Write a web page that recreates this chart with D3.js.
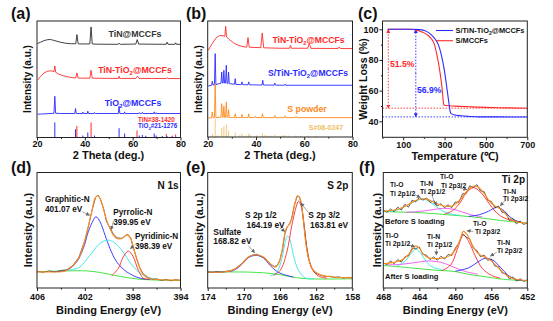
<!DOCTYPE html>
<html>
<head>
<meta charset="utf-8">
<script src="https://cdn.jsdelivr.net/npm/d3@7"></script>
<style>
  body { margin: 0; background: #fff; }
  svg text { font-family: "Liberation Sans", Arial, sans-serif; font-weight: bold; }
</style>
</head>
<body>
<div id="fig"></div>
<script>
// ---------- (a) XRD : [2theta, intensity a.u.] ----------
const tinMCCF = [[20.2,80.6],[21.5,81.8],[23,83.2],[24.5,84],[25.5,84.1],[26.5,83.7],[28,82.8],[30,81.7],[32,80.9],[34,80.5],[36.2,80.5],[36.7,88.3],[37.2,80.5],[38,80.3],[42.1,80.3],[42.6,94.9],[43.1,80.3],[45,80.1],[53.8,80],[54.3,80.8],[54.8,80],[61.3,80.2],[61.9,84],[62.5,80.2],[74,80],[74.4,81.8],[74.8,80],[77.7,80],[78,81.3],[78.3,80],[80,80]];
const tinTiO2a = [[20.2,49.1],[21.5,52.5],[23,55.5],[24.5,57],[25.5,57.2],[26.5,57],[27.1,56.5],[27.45,61.4],[27.8,56],[29,54.5],[31,53],[33,52],[35,51.3],[36.2,51.2],[36.7,55.4],[37.2,51],[42.1,50.9],[42.6,57.7],[43.1,50.9],[54,50.7],[54.3,52.5],[54.6,50.7],[61.3,50.7],[62,52.6],[62.7,50.7],[74,50.6],[74.4,51.3],[74.8,50.6],[80,50.6]];
const tio2MCCF = [[20.2,20],[25,20.5],[27.1,20.8],[27.45,35.4],[27.8,20.8],[30,20.6],[35.8,20.6],[36.1,24.9],[36.4,20.6],[39,20.6],[39.2,21.8],[39.4,20.6],[41,20.6],[41.25,22.6],[41.5,20.6],[43.8,20.6],[44.05,21.5],[44.3,20.6],[54,20.6],[54.32,26.8],[54.65,20.6],[56.4,20.6],[56.64,22],[56.9,20.6],[62.5,20.6],[62.75,21.4],[63,20.6],[63.8,20.6],[64.05,21.6],[64.3,20.6],[68.8,20.6],[69,22],[69.2,20.6],[69.6,20.6],[69.8,21.3],[70,20.6],[80,20.6]];
const tio2Ref = [[27.45,12.9],[36.09,7.1],[39.19,1.7],[41.24,4.3],[44.05,1.7],[54.32,8],[56.64,3.4],[62.74,1.7],[64.04,2.2],[65.48,1.5],[69.01,3.4],[69.79,1.7],[72.41,1.3],[74.4,1.2],[76.51,1.5]];
const tinRef = [[36.66,10],[42.6,12.9],[61.81,6],[74.07,3],[77.96,2.6]];

// ---------- (b) XRD ----------
const tinTiO2b = [[20.2,74.7],[21,77.5],[22,81],[23.5,85.5],[25,87.5],[26.3,87.3],[27.1,86.8],[27.45,95.4],[27.8,86.2],[29,84],[31,80.7],[33,78.8],[35,77.7],[36.2,77.5],[36.7,85.7],[37.2,77.4],[42,77],[42.6,89.7],[43.2,76.9],[50,76.5],[53.9,76.5],[54.3,79],[54.7,76.5],[61.4,76.5],[62.1,80.5],[62.8,76.4],[74,76.3],[74.5,77.6],[75,76.3],[80,76.2]];
const sTinTiO2 = [[20.2,44],[21.6,44.5],[21.9,48],[22.2,44.8],[22.8,45],[23.1,71.9],[23.4,45.2],[24.5,45.8],[25.5,46.3],[25.8,56],[26.1,46.5],[26.4,46.5],[26.7,57.5],[27,46.5],[27.4,46.5],[27.7,61.8],[28,46.3],[28.35,46.2],[28.65,56],[28.95,46],[31.1,45.5],[31.4,50.3],[31.7,45.3],[33.9,45.2],[34.2,47.5],[34.5,45.1],[36.7,45],[37,47.5],[37.3,45],[42.5,44.8],[42.8,48.9],[43.1,44.8],[47.5,44.7],[47.8,46.5],[48.1,44.7],[51.8,44.6],[52.1,45.6],[52.4,44.6],[80,44.6]];
const sPowder = [[20.2,16.3],[21.6,16.5],[21.9,21.6],[22.2,16.6],[22.8,16.7],[23.1,46],[23.4,16.8],[25.5,17],[25.8,28.8],[26.1,17],[26.4,17],[26.7,26.5],[27,17],[27.4,17],[27.7,30.2],[28,17],[28.35,17],[28.65,23.6],[28.95,16.9],[31.1,16.8],[31.4,20],[31.7,16.8],[33.9,16.8],[34.2,19.5],[34.5,16.8],[36.7,16.8],[37,20],[37.3,16.8],[39.5,16.8],[39.8,18],[40.1,16.8],[42.4,16.8],[42.7,20],[43,16.8],[47.5,16.7],[47.8,18.5],[48.1,16.7],[51.8,16.7],[52.1,18.3],[52.4,16.7],[56.3,16.7],[56.6,17.8],[56.9,16.7],[80,16.7]];
const sRef = [[22,2.5],[23.1,15.9],[24.1,1.5],[25.8,7.8],[26.7,9.2],[27.7,11],[28.6,5.5],[31.4,4],[33.3,1.5],[34.2,3],[36,1.5],[37,3],[37.6,2],[40.3,1.5],[42.7,3],[43.5,1.5],[44.6,1.2],[46,1.2],[47.8,2],[50.4,1],[51.3,1.3],[52.1,1.5],[53.4,1.2],[56.6,1.2],[58.5,1],[61.8,1],[64.6,1]];

// ---------- (c) TGA : [temperature, weight %] ----------
const tgaS_TiN = [[25,100],[150,100],[180,99.8],[210,98.8],[235,96.5],[255,93.5],[270,90],[285,83],[298,74],[308,65],[316,57],[322,51],[327,46.5],[332,45],[345,44.3],[380,43.6],[420,43.2],[470,42.9],[550,42.9],[700,42.8]];
const tgaS_MCCF = [[25,100],[130,100],[160,99.6],[190,98.3],[215,96.5],[235,94],[250,90.5],[262,84],[272,77],[281,69],[288,61.5],[293,54],[296,50.8],[305,50.3],[350,49.9],[420,49.5],[500,49.1],[600,48.8],[700,48.5]];
const lossMarks = [{t:28, top:100, end:48.6, label:"51.5%", color:"#ff2b2b"}, {t:161, top:100, end:42.9, label:"56.9%", color:"#2b2bff"}];

// ---------- (d) N 1s : [binding energy, intensity a.u.] ----------
const nBg = [[406,14],[403.5,14.8],[401.85,14.8],[400.7,13.4],[399.6,11.1],[398.5,9.1],[397.4,7.6],[395.7,6.8],[394,6.5]];
const nExp = [[406,14.5],[405.5,13.6],[405,14.8],[404.5,14],[404,15.2],[403.5,15.8],[403,19.5],[402.5,26.5],[402,41],[401.7,53.5],[401.4,67],[401.1,78.5],[400.9,80.5],[400.7,77],[400.45,69.5],[400.2,58],[399.9,52],[399.6,46.5],[399.3,43.5],[398.9,43],[398.6,45.5],[398.4,46.5],[398.15,43],[397.95,35],[397.65,25],[397.4,17.5],[397.1,12],[396.7,8.9],[396.3,7.3],[396,8],[395.6,6.5],[395.2,7.5],[394.8,6.2],[394.4,7.3],[394,6.5]];
const nFit = [[406,14],[403.8,14.3],[403.5,15.4],[402.96,19.8],[402.4,28.4],[401.99,41.5],[401.71,53],[401.43,66],[401.15,77.6],[400.93,79.9],[400.73,77.6],[400.45,68.9],[400.18,58.8],[399.9,51.6],[399.62,45.8],[399.34,42.9],[398.92,42.9],[398.64,44.9],[398.42,45.8],[398.17,42.9],[397.95,35.7],[397.67,25.6],[397.39,16.9],[397.11,11.7],[396.69,8.5],[396,7.4],[394,6.8]];
const nGraphitic = [[404.9,14.3],[403.52,15.4],[402.68,22.7],[402.13,34.3],[401.71,48.7],[401.29,58.8],[401.07,61.7],[400.73,57.4],[400.31,45.8],[399.9,34.3],[399.34,22.7],[398.5,14],[397.39,8.5],[396.55,7.4]];
const nPyrrolic = [[403.5,15],[402.96,16.2],[402.4,18.3],[401.57,28.4],[400.73,38.6],[400.04,41.5],[399.34,37.7],[398.78,30.8],[398.22,22.1],[397.67,15.4],[396.83,9.7],[396,7.6]];
const nPyridinic = [[399.76,10.5],[399.2,16.9],[398.78,27],[398.36,31.9],[397.95,27],[397.53,15.4],[397.11,8.5],[396.69,7.4]];
const nArrows = [[402.2,66,401.6,63],[399.6,58,399.8,50.5],[397.85,37,398.2,34]];

// ---------- (e) S 2p ----------
const sBg = [[174,13.8],[169.68,13.8],[167.46,12.9],[165.98,11.5],[164.51,9.4],[163.03,8],[158,8]];
const sExp = [[174,14.2],[173.5,13.4],[173,14.3],[172.5,13.6],[172,14.5],[171.5,14.8],[171,16.5],[170.5,19.5],[170,22.5],[169.5,27],[169,28.6],[168.6,29.3],[168.2,28],[167.8,26.3],[167.4,23],[167,20.5],[166.6,18.6],[166.3,19.5],[166,24.5],[165.7,34.5],[165.45,47],[165.2,53],[164.95,55],[164.7,60.5],[164.45,70.5],[164.1,79.5],[163.85,78.8],[163.6,71],[163.35,56],[163.1,38],[162.85,25.5],[162.5,17.5],[162.1,13],[161.6,11.2],[161,9.8],[160.5,10.2],[160,9.2],[159.5,9.6],[159,8.6],[158.5,9.2],[158,8.7]];
const sFit = [[174,13.8],[172.27,13.8],[171.16,15.8],[170.23,21],[169.5,26.8],[168.65,28.8],[167.83,26.8],[167.09,21],[166.54,18.1],[166.17,21],[165.8,31.2],[165.54,44.2],[165.32,51.4],[165.06,54.3],[164.69,60.1],[164.4,71.7],[164.06,79.9],[163.77,77.5],[163.47,63],[163.21,42.8],[162.84,25.4],[162.29,15.2],[161.54,11.5],[160.44,9.7],[158,8.8]];
const sSulfate = [[174,13.8],[171.16,15.2],[170.23,20.4],[169.5,26.2],[168.65,28.3],[167.83,25.9],[167.09,19.6],[166.35,14.3],[165.61,11.7],[164.51,9.4]];
const s2p12 = [[167.09,10.3],[166.35,13.8],[165.8,25.4],[165.43,39.3],[165.17,45.1],[164.88,41.3],[164.51,28.3],[163.95,15.2],[163.21,8.8],[162.29,8]];
const s2p32 = [[166.72,10.9],[165.98,15.2],[165.24,31.2],[164.69,54.3],[164.21,70.3],[163.95,75.2],[163.69,71.7],[163.32,52.9],[162.95,31.2],[162.47,16.7],[161.73,10.3],[160.81,8.5]];
const sArrows = [[169.5,36.6,168.8,30.5],[166,52,165.45,49],[162.85,65.4,163.7,73.5]];

// ---------- (f) Ti 2p (before / after S loading) ----------
const tiBgB = [[468,66.1],[464,65.2],[461,63.5],[458,61.5],[455,58.5],[452,56]];
const tiExpB = [[468,67.5],[467.6,65.5],[467.2,68.5],[466.8,66],[466.4,70],[466,67.5],[465.6,72.5],[465.2,70],[464.8,76],[464.4,74.5],[464,78.5],[463.6,76],[463.2,78],[462.8,74],[462.4,75.5],[462,71],[461.6,73],[461.2,69.5],[460.8,72],[460.4,69.5],[460,74.5],[459.6,74],[459.2,81.5],[458.8,82],[458.4,88.5],[458,87],[457.6,89.5],[457.2,84],[456.8,83.5],[456.4,76],[456,75],[455.6,69.5],[455.2,71],[454.8,65.5],[454.4,65.5],[454,58.5],[453.6,60],[453.2,55.5],[452.8,58],[452.4,55],[452,56.5]];
const tiFitB = [[468,66.5],[466.5,68],[465.5,71],[464.5,75.5],[463.7,77.3],[463,76.5],[462.2,73.5],[461.5,71.5],[460.8,70.5],[460.2,71.5],[459.5,76],[458.8,83],[458.2,87.5],[457.9,88.3],[457.4,87],[456.8,82],[456.2,75],[455.6,71],[455.2,69.5],[454.7,66.5],[454,60.5],[453.3,57.5],[452,56]];
const tiOp12B = [[467.5,66],[466.5,67.5],[465.5,71],[464.5,75],[463.7,76.8],[463,75.5],[462.3,71.5],[461.5,67],[460.5,64],[459.5,63]];
const tiNp12B = [[465.5,65.5],[464,66.3],[462.5,67.8],[461.3,69],[460.3,68.3],[459.3,66],[458.3,63.5],[457,61.5]];
const tiOp32B = [[461.2,64],[460.3,67],[459.5,73.5],[458.8,82],[458,86.9],[457.2,83],[456.5,76],[455.8,68.5],[455,62.5],[454,59],[453,57.5]];
const tiNp32B = [[458.5,62],[457.3,63.5],[456.3,66.5],[455.4,69.8],[454.6,67],[454,62],[453.3,58.5],[452.5,56.5]];
const tiBgA = [[468,19.5],[465,17.5],[462.5,15.6],[460,14.2],[458.5,11.8],[456,9],[455,7.8],[452,6.1]];
const tiExpA = [[468,22],[467.6,20],[467.2,23.5],[466.8,21],[466.4,24.5],[466,22.5],[465.6,27],[465.2,28],[464.8,34.5],[464.4,34],[464,35.5],[463.6,29],[463.2,28.5],[462.8,24.5],[462.4,27],[462,24],[461.6,27.5],[461.2,25],[460.8,29],[460.4,28],[460,34.5],[459.6,39],[459.2,47],[458.8,44],[458.4,42.5],[458,34.5],[457.6,32.5],[457.2,27],[456.8,28.5],[456.4,24],[456,25],[455.6,19],[455.2,18.5],[454.8,13],[454.4,12.5],[454,8],[453.6,9.5],[453.2,6],[452.8,8],[452.4,5.8],[452,7]];
const tiFitA = [[468,21],[467,22],[466,24],[465.2,29],[464.7,34],[464.4,36.5],[464,34.5],[463.6,30],[463.2,27],[462.6,25.5],[462,25.5],[461.3,26],[460.6,28],[460,33],[459.5,41],[459.1,49],[458.7,46.5],[458.2,38.5],[457.6,31],[457,27.5],[456.5,26],[456,23.5],[455.2,17.5],[454.5,12],[453.5,8],[452,6.5]];
const tiOp12A = [[466.5,19],[465.6,23],[465,29],[464.4,33.5],[463.8,29.5],[463.2,22.5],[462.5,18],[461.5,16]];
const tiNp12A = [[467.5,20],[466,20.5],[464.5,22],[463,23.4],[461.5,22],[460.3,18.5],[459,14.5],[457.5,12]];
const tiOp32A = [[461.5,15],[460.5,20],[459.8,33],[459.1,45.9],[458.5,40],[457.8,28],[457,17],[456,11],[455,8.5]];
const tiNp32A = [[460,14.5],[458.5,17.5],[457.5,22.5],[456.7,25.7],[455.8,24],[455,18],[454.2,11.5],[453.3,7.5],[452.5,6.5]];
const tiArrows = [[464.5,81,463.9,78.2],[462.6,80,462.1,71.5],[459.5,86.5,458.7,85.2],[454.5,75.5,455,71.2],[465.2,37.5,464.5,35.8],[462.1,34,462.1,28.5],[458,49,458.7,49.6],[455.4,31,456.1,27.6]];

// ---------- ticks ----------
const xrdTicks = [20,40,60,80], xrdMinor = [30,50,70];
const tgaTicks = [100,300,500,700], tgaMinor = [0,200,400,600];
const tgaYTicks = [40,60,80,100], tgaYMinor = [50,70,90];
const nTicks = [406,402,398,394], nMinor = [404,400,396];
const sTicks = [174,170,166,162,158], sMinor = [172,168,164,160];
const tiTicks = [468,464,460,456,452], tiMinor = [466,462,458,454];

// ---------- colours ----------
const cBlack = "#2b2b2b", cRed = "#ff2b2b", cBlue = "#2b2bff", cOrange = "#ff8a1c",
      cTan = "#f5c77a", cGreen = "#2ee02e", cCyan = "#2ee8e8", cMag = "#f050f0";

const svg = d3.select("#fig").append("svg").attr("width", 553).attr("height", 321);
const defs = svg.append("defs");

function marker(id, color) {
  defs.append("marker").attr("id", id).attr("viewBox", "0 0 10 10").attr("refX", 9).attr("refY", 5)
    .attr("markerWidth", 4).attr("markerHeight", 4).attr("markerUnits", "userSpaceOnUse").attr("orient", "auto")
    .append("path").attr("d", "M0,0L10,5L0,10z").attr("fill", color);
}
marker("arG", "#666"); marker("arR", cRed); marker("arB", cBlue);

function panel(id, box, xDom, yDom) {
  const x = d3.scaleLinear().domain(xDom).range([box.l, box.r]);
  const y = d3.scaleLinear().domain(yDom).range([box.b, box.t]);
  defs.append("clipPath").attr("id", "clip" + id).append("rect")
    .attr("x", box.l).attr("y", box.t).attr("width", box.r - box.l).attr("height", box.b - box.t);
  const g = svg.append("g").attr("clip-path", `url(#clip${id})`);
  return {x, y, g, box};
}

function curve(p, data, color, w, kind) {
  const line = d3.line().x(d => p.x(d[0])).y(d => p.y(d[1])).curve(kind || d3.curveLinear);
  p.g.append("path").attr("d", line(data)).attr("fill", "none").attr("stroke", color)
    .attr("stroke-width", w || 0.9).attr("stroke-linejoin", "round");
}
const smooth = d3.curveCatmullRom.alpha(0.5);

function sticks(p, data, color) {
  p.g.selectAll(null).data(data).enter().append("line")
    .attr("x1", d => p.x(d[0])).attr("x2", d => p.x(d[0]))
    .attr("y1", p.y(0)).attr("y2", d => p.y(d[1]))
    .attr("stroke", color).attr("stroke-width", 1);
}

function arrows(p, data) {
  p.g.selectAll(null).data(data).enter().append("line")
    .attr("x1", d => p.x(d[0])).attr("y1", d => p.y(d[1]))
    .attr("x2", d => p.x(d[2])).attr("y2", d => p.y(d[3]))
    .attr("stroke", "#666").attr("stroke-width", 0.6).attr("marker-end", "url(#arG)");
}

function frame(p, major, minor, pad) {
  const a = svg.append("g").attr("transform", `translate(0,${p.box.b})`);
  a.call(d3.axisBottom(p.x).tickValues(major).tickSize(3).tickPadding(pad).tickFormat(d3.format("d")));
  a.append("g").call(d3.axisBottom(p.x).tickValues(minor).tickSize(1.6).tickFormat(""));
  a.selectAll(".domain").remove();
  a.selectAll("line").attr("stroke", "#222");
  a.selectAll("text").attr("font-size", 9).attr("fill", "#111");
  svg.append("rect").attr("x", p.box.l).attr("y", p.box.t)
    .attr("width", p.box.r - p.box.l).attr("height", p.box.b - p.box.t)
    .attr("fill", "none").attr("stroke", "#222").attr("stroke-width", 1);
}

// text with "_x" subscripts
function label(x, y, str, size, color, anchor) {
  const t = svg.append("text").attr("x", x).attr("y", y).attr("font-size", size)
    .attr("fill", color || "#111").attr("text-anchor", anchor || "start");
  let shift = 0;
  str.split(/(_\w)/).filter(s => s.length).forEach(s => {
    const ts = t.append("tspan");
    if (s[0] === "_") {
      ts.attr("font-size", size * 0.68).attr("dy", size * 0.28).text(s.slice(1));
      shift = -size * 0.28;
    } else {
      if (shift) ts.attr("dy", shift);
      shift = 0;
      ts.text(s);
    }
  });
  return t;
}
function yTitle(x, y, str, size) {
  svg.append("text").attr("transform", `translate(${x},${y}) rotate(-90)`)
    .attr("text-anchor", "middle").attr("font-size", size).attr("fill", "#111").text(str);
}
function xTitle(x, y, str) {
  svg.append("text").attr("x", x).attr("y", y).attr("text-anchor", "middle")
    .attr("font-size", 11).attr("fill", "#111").text(str);
}

// ================= (a) =================
const pa = panel("a", {l:37, r:180.5, t:21, b:137.5}, [20, 80], [0, 100]);
sticks(pa, tio2Ref, cBlue);
sticks(pa, tinRef, cRed);
curve(pa, tinMCCF, cBlack);
curve(pa, tinTiO2a, cRed);
curve(pa, tio2MCCF, cBlue);
frame(pa, xrdTicks, xrdMinor, 0.5);
label(135, 37, "TiN@MCCFs", 8.8, "#333", "middle");
label(135, 73, "TiN-TiO_2@MCCFs", 8.8, cRed, "middle");
label(133, 105.5, "TiO_2@MCCFs", 8.8, cBlue, "middle");
label(138, 122, "TiN#38-1420", 6.3, cRed);
label(138, 128, "TiO_2#21-1276", 6.3, cBlue);
yTitle(31, 79, "Intensity (a.u.)", 10);
xTitle(108.5, 159, "2 Theta (deg.)");
label(11, 18.5, "(a)", 16, "#111");

// ================= (b) =================
const pb = panel("b", {l:207.7, r:352.5, t:21, b:137}, [20, 80], [0, 100]);
sticks(pb, sRef, cTan);
curve(pb, tinTiO2b, cRed);
curve(pb, sTinTiO2, cBlue);
curve(pb, sPowder, cOrange);
frame(pb, xrdTicks, xrdMinor, 0.5);
label(308.5, 42.5, "TiN-TiO_2@MCCFs", 8.6, cRed, "middle");
label(308, 76, "S/TiN-TiO_2@MCCFs", 8.6, cBlue, "middle");
label(307, 111.5, "S powder", 8.8, cOrange, "middle");
label(326, 129.5, "S#08-0247", 7, "#f0bd62", "middle");
yTitle(202, 79, "Intensity (a.u.)", 10);
xTitle(280, 159, "2 Theta (deg.)");
label(186, 18.5, "(b)", 16, "#111");

// ================= (c) =================
const pc = panel("c", {l:382.5, r:527.3, t:21, b:137.3}, [0, 700], [29.6, 105.4]);
lossMarks.forEach(m => {
  pc.g.append("line").attr("x1", pc.x(0)).attr("x2", pc.x(700))
    .attr("y1", pc.y(m.end)).attr("y2", pc.y(m.end))
    .attr("stroke", m.color).attr("stroke-width", 0.9).attr("stroke-dasharray", "1.5,1.5");
  const mid = (m.top + m.end) / 2, ar = m.color === cRed ? "arR" : "arB";
  [m.top, m.end].forEach(v => pc.g.append("line").attr("x1", pc.x(m.t)).attr("x2", pc.x(m.t))
    .attr("y1", pc.y(mid)).attr("y2", pc.y(v))
    .attr("stroke", m.color).attr("stroke-width", 0.9).attr("stroke-dasharray", "1.5,1.5")
    .attr("marker-end", `url(#${ar})`));
});
curve(pc, tgaS_MCCF, cRed, 1.1, d3.curveMonotoneX);
curve(pc, tgaS_TiN, cBlue, 1.1, d3.curveMonotoneX);
frame(pc, tgaTicks, tgaMinor, 1);
{
  const a = svg.append("g").attr("transform", `translate(${pc.box.l},0)`);
  a.call(d3.axisLeft(pc.y).tickValues(tgaYTicks).tickSize(3).tickPadding(1));
  a.append("g").call(d3.axisLeft(pc.y).tickValues(tgaYMinor).tickSize(1.6).tickFormat(""));
  a.selectAll(".domain").remove();
  a.selectAll("line").attr("stroke", "#222");
  a.selectAll("text").attr("font-size", 9).attr("fill", "#111");
}
label(390, 66.5, "51.5%", 8.6, cRed);
label(417, 93, "56.9%", 8.6, cBlue);
svg.append("line").attr("x1", 436).attr("x2", 453).attr("y1", 30.5).attr("y2", 30.5).attr("stroke", cBlue).attr("stroke-width", 1.1);
svg.append("line").attr("x1", 436).attr("x2", 453).attr("y1", 40.7).attr("y2", 40.7).attr("stroke", cRed).attr("stroke-width", 1.1);
label(455.5, 33, "S/TiN-TiO_2@MCCFs", 7.4, "#111");
label(455.5, 43.3, "S/MCCFs", 7.4, "#111");
yTitle(366.5, 79, "Weight Loss (%)", 10.5);
xTitle(455, 159.5, "Temperature (\u2103)");
label(358, 18.5, "(c)", 16, "#111");

// ================= (d) =================
const pd = panel("d", {l:37, r:180.5, t:172.5, b:288}, [406, 394], [0, 100]);
curve(pd, nBg, cGreen, 0.9, smooth);
curve(pd, nGraphitic, cBlue, 0.9, smooth);
curve(pd, nPyrrolic, cCyan, 0.9, smooth);
curve(pd, nPyridinic, cRed, 0.9, smooth);
curve(pd, nExp, "#444", 0.8);
curve(pd, nFit, cOrange, 1.1, smooth);
arrows(pd, nArrows);
frame(pd, nTicks, nMinor, 2.5);
label(178.5, 188.5, "N 1s", 10, "#111", "end");
label(45, 201.5, "Graphitic-N", 8.2);
label(45, 211.5, "401.07 eV", 8.2);
label(113.3, 215, "Pyrrolic-N", 8.2);
label(113.3, 225.3, "399.95 eV", 8.2);
label(135, 238.5, "Pyridinic-N", 8.2);
label(135, 249, "398.39 eV", 8.2);
yTitle(32, 230, "Intensity (a.u.)", 11);
xTitle(108.5, 313.5, "Binding Energy (eV)");
label(11, 172.5, "(d)", 16, "#111");

// ================= (e) =================
const pe = panel("e", {l:207.7, r:352.3, t:172.5, b:288}, [174, 158], [0, 100]);
curve(pe, sBg, cGreen, 0.9, smooth);
curve(pe, sSulfate, cBlue, 0.9, smooth);
curve(pe, s2p12, cCyan, 0.9, smooth);
curve(pe, s2p32, cRed, 0.9, smooth);
curve(pe, sExp, "#444", 0.8);
curve(pe, sFit, cOrange, 1.1, smooth);
arrows(pe, sArrows);
frame(pe, sTicks, sMinor, 2.5);
label(348.3, 188.5, "S 2p", 10, "#111", "end");
label(213.3, 234.5, "Sulfate", 8.4);
label(213.3, 244.3, "168.82 eV", 8.4);
label(245, 217.7, "S 2p 1/2", 8.4);
label(246.5, 227.7, "164.19 eV", 8.4);
label(308.3, 217.7, "S 2p 3/2", 8.4);
label(310, 227.7, "163.81 eV", 8.4);
yTitle(203, 230, "Intensity (a.u.)", 11);
xTitle(280, 313.5, "Binding Energy (eV)");
label(186, 172.5, "(e)", 16, "#111");

// ================= (f) =================
const pf = panel("f", {l:383.3, r:527.3, t:172.5, b:288}, [468, 452], [0, 100]);
[[tiBgB, tiOp12B, tiNp12B, tiOp32B, tiNp32B, tiExpB, tiFitB],
 [tiBgA, tiOp12A, tiNp12A, tiOp32A, tiNp32A, tiExpA, tiFitA]].forEach(s => {
  curve(pf, s[0], cGreen, 0.9, smooth);
  curve(pf, s[1], cCyan, 0.9, smooth);
  curve(pf, s[2], cMag, 0.9, smooth);
  curve(pf, s[3], cRed, 0.9, smooth);
  curve(pf, s[4], cBlue, 0.9, smooth);
  curve(pf, s[5], "#333", 0.8);
  curve(pf, s[6], cOrange, 1.1, smooth);
});
arrows(pf, tiArrows);
frame(pf, tiTicks, tiMinor, 2.5);
label(525, 182.5, "Ti 2p", 10, "#111", "end");
const fs = 6.8;
label(390, 186.8, "Ti-O", fs); label(390, 195.8, "Ti 2p1/2", fs);
label(420, 185.8, "Ti-N", fs); label(420, 194.2, "Ti 2p1/2", fs);
label(440, 179.2, "Ti-O", fs); label(441, 187.5, "Ti 2p3/2", fs);
label(503, 194.2, "Ti-N", fs); label(503, 200.8, "Ti 2p3/2", fs);
label(385, 224.3, "Before S loading", 7.5);
label(385, 237.5, "Ti-O", fs); label(385, 245.8, "Ti 2p1/2", fs);
label(427, 239.2, "Ti-N", fs); label(427, 246.8, "Ti 2p1/2", fs);
label(473, 226, "Ti-O", fs); label(475, 234, "Ti 2p3/2", fs);
label(497, 244.8, "Ti-N", fs); label(497, 252.5, "Ti 2p3/2", fs);
label(385, 279.2, "After S loading", 7.5);
yTitle(381, 230, "Intensity (a.u.)", 11);
xTitle(455.3, 313.5, "Binding Energy (eV)");
label(359, 172.5, "(f)", 16, "#111");
</script>
</body>
</html>
